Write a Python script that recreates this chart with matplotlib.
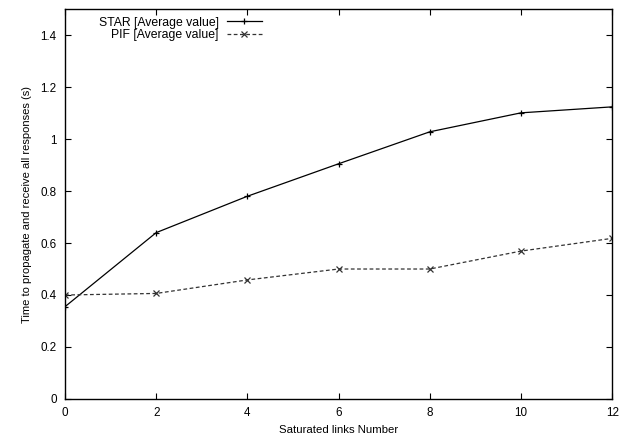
import matplotlib
matplotlib.use("Agg")
from matplotlib import pyplot as plt

plt.rcParams['font.family'] = ['Liberation Sans', 'DejaVu Sans']
plt.rcParams['font.size'] = 8

links = [0, 2, 4, 6, 8, 10, 12]
star_avg = [0.355, 0.64, 0.78, 0.905, 1.028, 1.101, 1.124]
pif_avg = [0.40, 0.406, 0.458, 0.50, 0.50, 0.569, 0.618]

fig = plt.figure(figsize=(6.19, 4.36), dpi=100)
ax = fig.add_axes([0.105, 0.085, 0.884, 0.894])

ax.plot(links, star_avg, color='black', lw=0.9, marker='+', ms=5, mew=0.9,
        label='STAR [Average value]')
ax.plot(links, pif_avg, color='#333333', lw=0.9, ls=(0, (3, 2)), marker='x',
        ms=4, mew=0.9, label='PIF [Average value]')

ax.set_xlim(0, 12)
ax.set_ylim(0, 1.5)
ax.set_xticks(links)
ax.set_yticks([0, 0.2, 0.4, 0.6, 0.8, 1, 1.2, 1.4])
ax.set_yticklabels(['0', '0.2', '0.4', '0.6', '0.8', '1', '1.2', '1.4'])
ax.tick_params(direction='in', top=True, right=True, length=4, width=0.8,
               pad=6, labelsize=8.4)
for s in ax.spines.values():
    s.set_linewidth(1.0)

ax.set_xlabel('Saturated links Number', labelpad=4, fontsize=8.2)
ax.set_ylabel('Time to propagate and receive all responses (s)', labelpad=6)

ax.legend(loc='upper right', bbox_to_anchor=(0.369, 0.993), frameon=False,
          markerfirst=False, handlelength=2.9, handletextpad=0.65,
          labelspacing=0.05, borderaxespad=0.0, fontsize=8.8)

fig.savefig('out.png', dpi=100)
